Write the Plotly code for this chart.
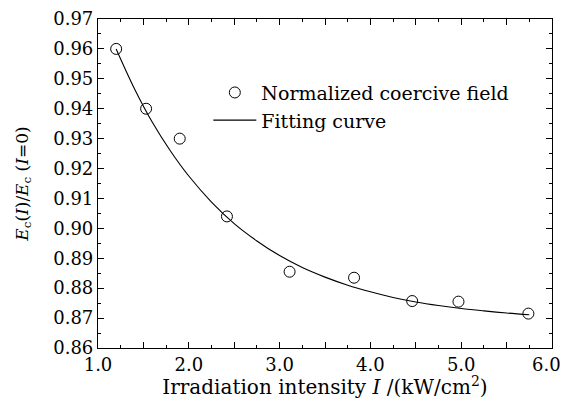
import plotly.graph_objects as go

# Measured data (normalized coercive field)
intensity = [1.20, 1.53, 1.90, 2.42, 3.11, 3.82, 4.46, 4.97, 5.74]
norm_field = [0.960, 0.940, 0.930, 0.904, 0.8855, 0.8835, 0.8757, 0.8755, 0.8715]

# Fitting curve
fit_x = [1.2, 1.4, 1.6, 1.8, 2.0, 2.25, 2.5, 2.75, 3.0, 3.25, 3.5, 3.75,
         4.0, 4.25, 4.5, 4.75, 5.0, 5.25, 5.5, 5.75]
fit_y = [0.960, 0.9468, 0.9354, 0.9258, 0.9175, 0.9088, 0.9016, 0.8958,
         0.8909, 0.8869, 0.8837, 0.8810, 0.8788, 0.8769, 0.8754, 0.8742,
         0.8732, 0.8724, 0.8717, 0.8711]

x_tickvals = [1.0, 1.5, 2.0, 2.5, 3.0, 3.5, 4.0, 4.5, 5.0, 5.5, 6.0]
x_ticktext = ["1.0", "", "2.0", "", "3.0", "", "4.0", "", "5.0", "",
              "6.0<span style='color:rgba(0,0,0,0)'>0</span>"]
y_tickvals = [0.86, 0.87, 0.88, 0.89, 0.90, 0.91, 0.92, 0.93, 0.94, 0.95, 0.96, 0.97]
y_ticktext = ["0.86", "0.87", "0.88", "0.89", "0.90", "0.91", "0.92", "0.93",
              "0.94", "0.95", "0.96", "0.97"]

FONT = "DejaVu Serif, Liberation Serif, serif"

fig = go.Figure()
fig.add_trace(go.Scatter(
    x=intensity, y=norm_field, mode="markers", name="Normalized coercive field",
    marker=dict(symbol="circle-open", size=11, color="black", line=dict(width=1)),
))
fig.add_trace(go.Scatter(
    x=fit_x, y=fit_y, mode="lines", name="Fitting curve",
    line=dict(color="black", width=1.1, shape="spline"),
))

axis_common = dict(
    showline=True, linecolor="black", linewidth=1.2, mirror="allticks",
    ticks="inside", ticklen=6, tickwidth=1, tickcolor="black",
    showgrid=False, zeroline=False, automargin=False,
    ticklabeloverflow="allow",
    tickfont=dict(family=FONT, size=18, color="black"),
)

fig.update_xaxes(
    range=[1.0, 6.0], tickmode="array", tickvals=x_tickvals, ticktext=x_ticktext,
    minor=dict(ticks="inside", dtick=0.25, tick0=1.0, ticklen=3, tickcolor="black", showgrid=False),
    title=dict(text="Irradiation intensity <i>I</i> /(kW/cm<sup>2</sup>)",
               font=dict(family=FONT, size=20, color="black"), standoff=0),
    **axis_common,
)
fig.update_yaxes(
    range=[0.86, 0.97], tickmode="array", tickvals=y_tickvals, ticktext=y_ticktext,
    minor=dict(ticks="inside", dtick=0.005, tick0=0.86, ticklen=3, tickcolor="black", showgrid=False),
    title=dict(text="<i>E</i><sub>c</sub>(<i>I</i>)/<i>E</i><sub>c</sub> (<i>I</i>=0)",
               font=dict(family=FONT, size=17, color="black"), standoff=20),
    **axis_common,
)

fig.update_layout(
    width=561, height=399,
    margin=dict(l=98, r=9, t=19, b=51, autoexpand=False),
    paper_bgcolor="white", plot_bgcolor="white",
    font=dict(family=FONT, size=18, color="black"),
    legend=dict(x=0.243, y=0.834, xanchor="left", yanchor="top",
                bgcolor="rgba(0,0,0,0)", font=dict(family=FONT, size=19, color="black"),
                itemwidth=43, tracegroupgap=0),
    showlegend=True,
)

fig.write_html(
    "out.html",
    config={"displayModeBar": False},
    post_script="document.body.style.margin='0';document.body.style.overflow='hidden';",
)
